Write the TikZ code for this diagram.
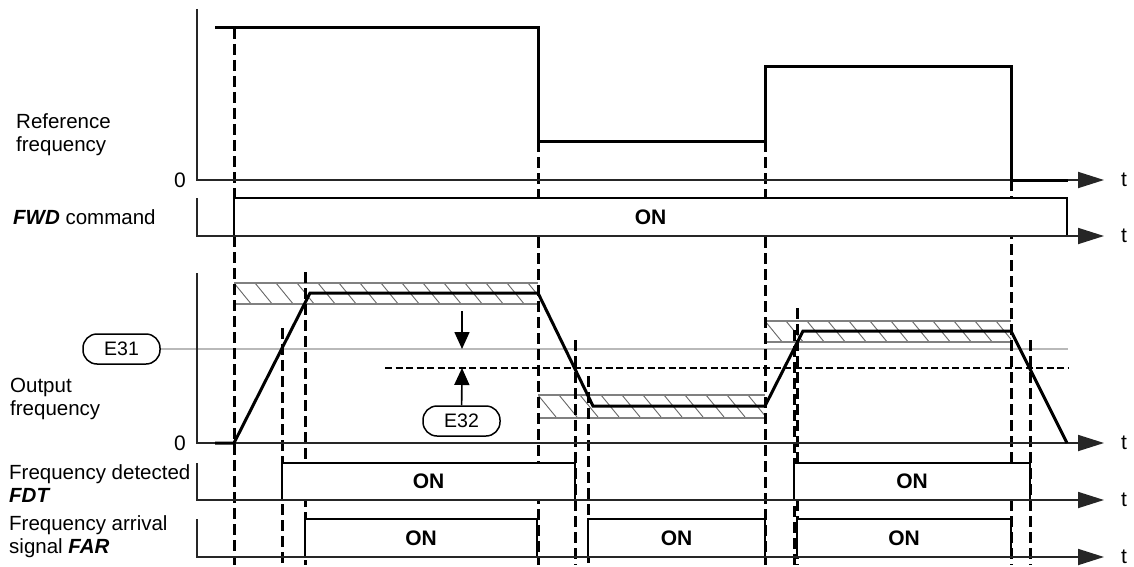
\documentclass[tikz,border=0pt]{standalone}
\usepackage{fontspec}
\setmainfont{Liberation Sans}
\usetikzlibrary{arrows.meta, positioning}

\begin{document}
\begin{tikzpicture}[
  x=1pt, y=-1pt,
  axis/.style={line width=1.8pt, black!85, -{Triangle[length=26pt, width=16pt]}},
  signal/.style={line width=3pt, line join=miter},
  onbox/.style={draw, line width=1.6pt, fill=white, inner sep=0pt, outer sep=0pt, font=\bfseries\fontsize{21}{23}\selectfont},
  guide/.style={line width=3pt, dash pattern=on 11pt off 5pt},
  level/.style={line width=2.4pt, dash pattern=on 7pt off 3.5pt},
  band/.style={gray, line width=1.1pt},
  hatch/.style={black!60, line width=0.9pt},
  param/.style={draw, rounded corners=14pt, line width=1.5pt, minimum width=77pt, minimum height=30pt, inner sep=0pt, fill=white, font=\fontsize{19.5}{21}\selectfont},
  rowlabel/.style={anchor=west, align=left, inner sep=0pt, font=\fontsize{20.5}{23}\selectfont},
  tick/.style={inner sep=0pt, font=\fontsize{21}{23}\selectfont},
  pointer/.style={line width=1.6pt, -{Triangle[length=17pt, width=15pt]}}
]

\useasboundingbox (0,0) rectangle (1134,567);

% Detection levels
\node[param] (e31) at (121.5,349) {E31};
\coordinate (e31end) at (1068,349);
\draw[gray!55, line width=1.4pt] (e31.east) -- (e31end);
\draw[level] (385,368) -- (1068,368);

% Hatched bands round the reference
\foreach \xl/\xr/\yt/\yb in {234/538/283/304, 538/765/395/418, 765/1011/321/342}{
  \begin{scope}
    \clip (\xl,\yt) rectangle (\xr,\yb);
    \foreach \k in {0,...,15}
      \draw[hatch] ({\xl+21*\k},\yt) -- ++(18,22);
  \end{scope}
  \draw[band] (\xl,\yt) -- (\xr,\yt) (\xl,\yb) -- (\xr,\yb);
}

% Dashed time marks
\foreach \gx/\gy in {234/28, 538/141, 765/141, 1011/180, 282/328, 305/272, 575/340, 588/376, 794/330, 797/308, 1030/340}
  \draw[guide] (\gx,\gy) -- (\gx,565);

% ON boxes
\node[onbox, minimum width=833pt, minimum height=38pt] (fwdon) at (650.5,217) {ON};
\node[onbox, minimum width=293pt, minimum height=37pt] (fdton1) at (428.5,481.5) {ON};
\node[onbox, minimum width=236pt, minimum height=37pt] (fdton2) at (912,481.5) {ON};
\node[onbox, minimum width=232pt, minimum height=38pt] (faron1) at (421,538) {ON};
\node[onbox, minimum width=177pt, minimum height=38pt] (faron2) at (676.5,538) {ON};
\node[onbox, minimum width=214pt, minimum height=38pt] (faron3) at (904,538) {ON};

% Axes
\foreach \top/\base in {9/180, 198/236, 273/443, 463/500, 519/557}{
  \draw[axis] (197,\top) -- (197,\base) -- (1104,\base);
  \node[tick] (t\base) at (1124,\base) {t};
}
\node[tick] (zref) at (180,180) {0};
\node[tick] (zout) at (180,443) {0};

% Signals
\draw[signal] (215,28) -- (538,28) -- (538,141) -- (765,141) -- (765,67) -- (1011,67) -- (1011,180) -- (1068,180);
\draw[signal] (215,443) -- (234,443) -- (310,293) -- (538,293) -- (593,406) -- (765,406) -- (803,331) -- (1011,331) -- (1067,443);

% Hysteresis width
\node[param] (e32) at (461.5,421) {E32};
\coordinate (gaptop) at (462,311);
\coordinate (e31hit) at (462,349);
\coordinate (e32hit) at (462,368);
\draw[pointer] (gaptop) -- (e31hit);
\draw[pointer] (e32) -- (e32hit);

% Row labels
\node[rowlabel] (reflabel) at (16,135) {Reference\\frequency};
\node[rowlabel] (fwdlabel) at (13,217) {\textbf{\textit{FWD}} command};
\node[rowlabel] (outlabel) at (10,399) {Output\\frequency};
\node[rowlabel] (fdtlabel) at (9,484) {Frequency detected\\\textbf{\textit{FDT}}};
\node[rowlabel] (farlabel) at (9,537) {Frequency arrival\\signal \textbf{\textit{FAR}}};

\end{tikzpicture}
\end{document}
